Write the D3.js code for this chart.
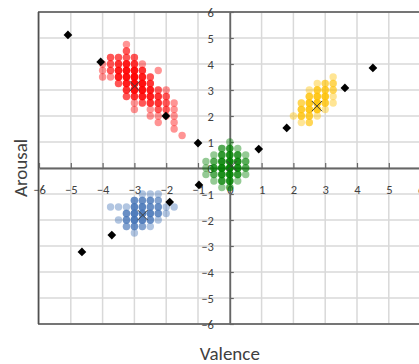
<!DOCTYPE html>
<html>
<head>
<meta charset="utf-8">
<script src="https://cdn.jsdelivr.net/npm/d3@7"></script>
<style>
  body { margin: 0; background: #fff; }
  svg { display: block; }
  text { font-family: Calibri, Carlito, Lato, sans-serif; fill: #404040; }
</style>
</head>
<body>
<div id="chart"></div>
<script>
// axis tick values (both axes)
const tickValues = [-6, -5, -4, -3, -2, -1, 0, 1, 2, 3, 4, 5, 6];

// black diamonds
const markerX = [-5.09, -4.06, -2.01, -1.0, 4.5, 3.62, 1.79, 0.91, -1.89, -3.71, -4.65, -0.97];
const markerY = [5.12, 4.08, 2.0, 0.96, 3.85, 3.08, 1.54, 0.73, -1.31, -2.58, -3.23, -0.65];

// cluster centres (x marks)
const centreX = [-2.99, 2.74, 0.06, -2.74];
const centreY = [3.15, 2.38, 0.08, -1.81];

// [valence, arousal, count]
const redPoints = [
  [-4, 4, 1], [-4, 3.75, 1], [-4, 3.5, 1],
  [-3.75, 4.25, 2], [-3.75, 4, 2], [-3.75, 3.75, 2], [-3.75, 3.5, 1],
  [-3.5, 4.25, 2], [-3.5, 4, 3], [-3.5, 3.75, 4], [-3.5, 3.5, 4], [-3.5, 3.25, 2],
  [-3.25, 4.75, 1], [-3.25, 4.5, 2], [-3.25, 4.25, 2], [-3.25, 4, 4], [-3.25, 3.75, 5], [-3.25, 3.5, 5], [-3.25, 3.25, 4], [-3.25, 3, 3], [-3.25, 2.75, 2],
  [-3, 4.25, 2], [-3, 4, 3], [-3, 3.75, 5], [-3, 3.5, 6], [-3, 3.25, 6], [-3, 3, 5], [-3, 2.75, 3], [-3, 2.5, 1], [-3, 2.25, 1],
  [-2.75, 4, 1], [-2.75, 3.75, 3], [-2.75, 3.5, 4], [-2.75, 3.25, 5], [-2.75, 3, 5], [-2.75, 2.75, 4], [-2.75, 2.5, 2],
  [-2.5, 3.5, 2], [-2.5, 3.25, 3], [-2.5, 3, 4], [-2.5, 2.75, 4], [-2.5, 2.5, 3], [-2.5, 2.25, 1], [-2.5, 2, 1],
  [-2.25, 3.75, 1], [-2.25, 3, 2], [-2.25, 2.75, 3], [-2.25, 2.5, 3], [-2.25, 2.25, 2], [-2.25, 2, 1], [-2.25, 1.75, 1],
  [-2, 3, 1], [-2, 2.75, 2], [-2, 2.5, 2], [-2, 2.25, 2], [-2, 2, 1],
  [-1.75, 2.5, 1], [-1.75, 2.25, 1], [-1.75, 2, 1], [-1.75, 1.75, 1], [-1.75, 1.5, 1],
  [-1.5, 1.25, 1]
];

const yellowPoints = [
  [2, 2, 1],
  [2.25, 2.5, 2], [2.25, 2.25, 3], [2.25, 2, 3], [2.25, 1.75, 1],
  [2.5, 3, 1], [2.5, 2.75, 3], [2.5, 2.5, 4], [2.5, 2.25, 4], [2.5, 2, 3], [2.5, 1.75, 2],
  [2.75, 3.25, 1], [2.75, 3, 3], [2.75, 2.75, 4], [2.75, 2.5, 5], [2.75, 2.25, 4], [2.75, 2, 1],
  [3, 3.25, 2], [3, 3, 3], [3, 2.75, 4], [3, 2.5, 3], [3, 2.25, 1],
  [3.25, 3.5, 1], [3.25, 3.25, 2], [3.25, 3, 2], [3.25, 2.75, 1], [3.25, 2.5, 1]
];

const greenPoints = [
  [-0.75, 0.25, 1], [-0.75, 0, 1], [-0.75, -0.25, 1],
  [-0.5, 0.5, 1], [-0.5, 0.25, 2], [-0.5, 0, 3], [-0.5, -0.25, 2], [-0.5, -0.5, 1],
  [-0.25, 0.75, 2], [-0.25, 0.5, 3], [-0.25, 0.25, 4], [-0.25, 0, 5], [-0.25, -0.25, 4], [-0.25, -0.5, 3], [-0.25, -0.75, 1],
  [0, 1, 1], [0, 0.75, 3], [0, 0.5, 4], [0, 0.25, 5], [0, 0, 6], [0, -0.25, 5], [0, -0.5, 4], [0, -0.75, 2],
  [0.25, 0.75, 1], [0.25, 0.5, 3], [0.25, 0.25, 4], [0.25, 0, 4], [0.25, -0.25, 3], [0.25, -0.5, 1],
  [0.5, 0.5, 1], [0.5, 0.25, 2], [0.5, 0, 2], [0.5, -0.25, 1]
];

const bluePoints = [
  [-3.75, -1.5, 1], [-3.5, -1.5, 1], [-3.5, -2, 1],
  [-3.25, -1.5, 1], [-3.25, -1.75, 3], [-3.25, -2, 3], [-3.25, -2.25, 2],
  [-3, -1.25, 3], [-3, -1.5, 4], [-3, -1.75, 5], [-3, -2, 5], [-3, -2.25, 3], [-3, -2.5, 1],
  [-2.75, -1, 1], [-2.75, -1.25, 3], [-2.75, -1.5, 4], [-2.75, -1.75, 5], [-2.75, -2, 4], [-2.75, -2.25, 2],
  [-2.5, -1, 1], [-2.5, -1.25, 3], [-2.5, -1.5, 3], [-2.5, -1.75, 4], [-2.5, -2, 3], [-2.5, -2.25, 1],
  [-2.25, -1, 1], [-2.25, -1.25, 2], [-2.25, -1.5, 3], [-2.25, -1.75, 3], [-2.25, -2, 1],
  [-2, -1.5, 1], [-2, -1.75, 1],
  [-1.75, -1.5, 1]
];

const clusters = [
  { points: redPoints, color: '#ff0000' },
  { points: yellowPoints, color: '#ffc000' },
  { points: greenPoints, color: '#008000' },
  { points: bluePoints, color: '#4475b8' }
];

const width = 419, height = 364;

const svg = d3.select('#chart').append('svg')
  .attr('width', width)
  .attr('height', height);

const x = d3.scaleLinear().domain([-6, 6]).range([39, 420.6]);
const y = d3.scaleLinear().domain([-6, 6]).range([324, 12]);

// gridlines
const grid = svg.append('g').attr('stroke', '#d9d9d9').attr('stroke-width', 1.5);
grid.selectAll('.gv').data(tickValues).enter().append('line')
  .attr('x1', d => x(d)).attr('x2', d => x(d))
  .attr('y1', y(6)).attr('y2', y(-6));
grid.selectAll('.gh').data(tickValues).enter().append('line')
  .attr('y1', d => y(d)).attr('y2', d => y(d))
  .attr('x1', x(-6)).attr('x2', x(6));

// plot border (left, top, bottom)
const border = svg.append('g').attr('stroke', '#505050').attr('stroke-width', 1.7);
border.append('line').attr('x1', x(-6) - 0.5).attr('x2', x(-6) - 0.5).attr('y1', y(6)).attr('y2', y(-6));
border.append('line').attr('x1', x(-6) - 1).attr('x2', width).attr('y1', y(6)).attr('y2', y(6));
border.append('line').attr('x1', x(-6) - 1).attr('x2', width).attr('y1', y(-6)).attr('y2', y(-6));

// axes through the origin
const xAxis = svg.append('g')
  .attr('transform', `translate(0,${y(0)})`)
  .call(d3.axisBottom(x).tickValues(tickValues).tickSize(-5).tickSizeOuter(0).tickPadding(17));

const yAxis = svg.append('g')
  .attr('transform', `translate(${x(0)},0)`)
  .call(d3.axisLeft(y).tickValues(tickValues).tickSize(-4).tickSizeOuter(0).tickPadding(16));

[xAxis, yAxis].forEach(a => {
  a.select('.domain').attr('stroke', '#666').attr('stroke-width', 1.8);
  a.selectAll('.tick line').attr('stroke', '#666').attr('stroke-width', 1.2);
  a.selectAll('.tick text').attr('fill', '#404040').style('font-size', '12.5px')
    .style('font-family', 'Calibri, Carlito, Lato, sans-serif');
});

// clusters: one translucent dot per observation
clusters.forEach(c => {
  const obs = c.points.flatMap(p => d3.range(p[2]).map(() => p));
  svg.append('g').selectAll('circle').data(obs).enter().append('circle')
    .attr('cx', d => x(d[0]))
    .attr('cy', d => y(d[1]))
    .attr('r', 3.7)
    .attr('fill', c.color)
    .attr('fill-opacity', 0.42);
});

// black diamonds
svg.append('g').selectAll('path').data(markerX).enter().append('path')
  .attr('d', d3.symbol(d3.symbolSquare, 38))
  .attr('transform', (d, i) => `translate(${x(d)},${y(markerY[i])}) rotate(45)`)
  .attr('fill', '#000');

// centre crosses
svg.append('g').selectAll('path').data(centreX).enter().append('path')
  .attr('d', d3.symbol(d3.symbolX, 70))
  .attr('transform', (d, i) => `translate(${x(d)},${y(centreY[i])})`)
  .attr('fill', 'none')
  .attr('stroke', '#404040')
  .attr('stroke-width', 1);

// axis titles
svg.append('text')
  .attr('transform', `translate(27,${y(0)}) rotate(-90)`)
  .attr('text-anchor', 'middle')
  .style('font-size', '19px')
  .text('Arousal');

svg.append('text')
  .attr('x', x(0))
  .attr('y', 360)
  .attr('text-anchor', 'middle')
  .style('font-size', '19px')
  .text('Valence');
</script>
</body>
</html>
